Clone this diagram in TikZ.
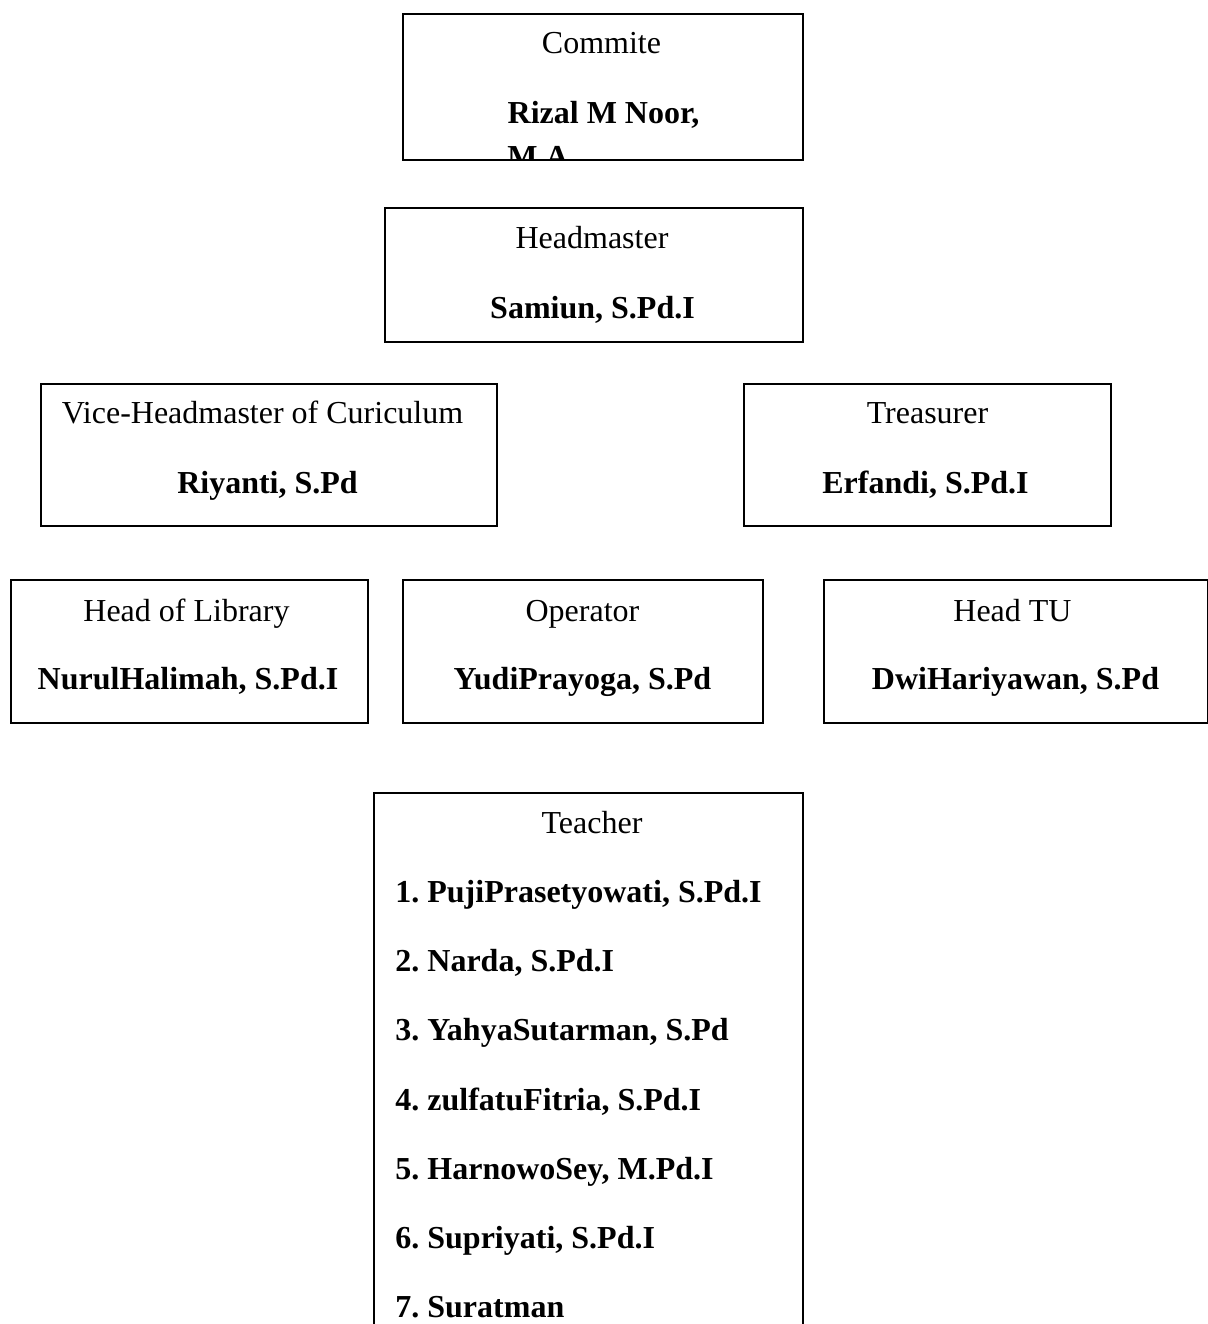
\documentclass[tikz,border=0pt]{standalone}
\usepackage{fontspec}
\setmainfont{Liberation Serif}
\frenchspacing
\begin{document}
\begin{tikzpicture}[x=0.5pt,y=-0.5pt,
  box/.style={draw=black,line width=0.9pt,rectangle,inner sep=0pt,anchor=north west},
  ttl/.style={anchor=base,inner sep=0pt,font=\fontsize{16}{19}\selectfont},
  nm/.style={anchor=base,inner sep=0pt,font=\fontsize{16}{19}\selectfont\bfseries},
  item/.style={anchor=base west,inner sep=0pt,font=\fontsize{16}{19}\selectfont\bfseries}]
\useasboundingbox (0,0) rectangle (1208,1324);
% Commite
\node[box,minimum width=200pt,minimum height=73pt] (commite) at (402,13) {};
\node[ttl] (commiteT) at (601.5,53) {Commite};
\node[nm] (commiteN) at (603.5,123) {Rizal M Noor,};
\begin{scope}
\clip (402,13) rectangle (802,158);
\node[item] (commiteN2) at (507,167) {M.A};
\end{scope}
% Headmaster
\node[box,minimum width=209pt,minimum height=67pt] (head) at (384,207) {};
\node[ttl] (headT) at (592,248) {Headmaster};
\node[nm] (headN) at (592.5,318) {Samiun, S.Pd.I};
% Vice
\node[box,minimum width=228pt,minimum height=71pt] (vice) at (40,383) {};
\node[ttl] (viceT) at (262.5,423) {Vice-Headmaster of Curiculum};
\node[nm] (viceN) at (267.5,493) {Riyanti, S.Pd};
% Treasurer
\node[box,minimum width=183.5pt,minimum height=71pt] (treas) at (743,383) {};
\node[ttl] (treasT) at (927.5,423) {Treasurer};
\node[nm] (treasN) at (925.5,493) {Erfandi, S.Pd.I};
% Library
\node[box,minimum width=178.5pt,minimum height=71.5pt] (lib) at (10,579) {};
\node[ttl] (libT) at (186.5,621) {Head of Library};
\node[nm] (libN) at (188,689) {NurulHalimah, S.Pd.I};
% Operator
\node[box,minimum width=180pt,minimum height=71.5pt] (oper) at (402,579) {};
\node[ttl] (operT) at (582.5,621) {Operator};
\node[nm] (operN) at (582.5,689) {YudiPrayoga, S.Pd};
% Head TU
\node[box,minimum width=192pt,minimum height=71.5pt] (tu) at (823,579) {};
\node[ttl] (tuT) at (1012.5,621) {Head TU};
\node[nm] (tuN) at (1015.5,689) {DwiHariyawan, S.Pd};
% Teacher (bottom cut off)
\node[rectangle,inner sep=0pt,anchor=north west,minimum width=214pt,minimum height=270pt] (teacher) at (374,793) {};
\draw[line width=0.9pt] (teacher.south west) -- (teacher.north west) -- (teacher.north east) -- (teacher.south east);
\node[ttl] (teacherT) at (592,833) {Teacher};
\node[item] (t1) at (395,902) {1. PujiPrasetyowati, S.Pd.I};
\node[item] (t2) at (395,971) {2. Narda, S.Pd.I};
\node[item] (t3) at (395,1040) {3. YahyaSutarman, S.Pd};
\node[item] (t4) at (395,1110) {4. zulfatuFitria, S.Pd.I};
\node[item] (t5) at (395,1179) {5. HarnowoSey, M.Pd.I};
\node[item] (t6) at (395,1248) {6. Supriyati, S.Pd.I};
\node[item] (t7) at (395,1317) {7. Suratman};
\end{tikzpicture}
\end{document}
